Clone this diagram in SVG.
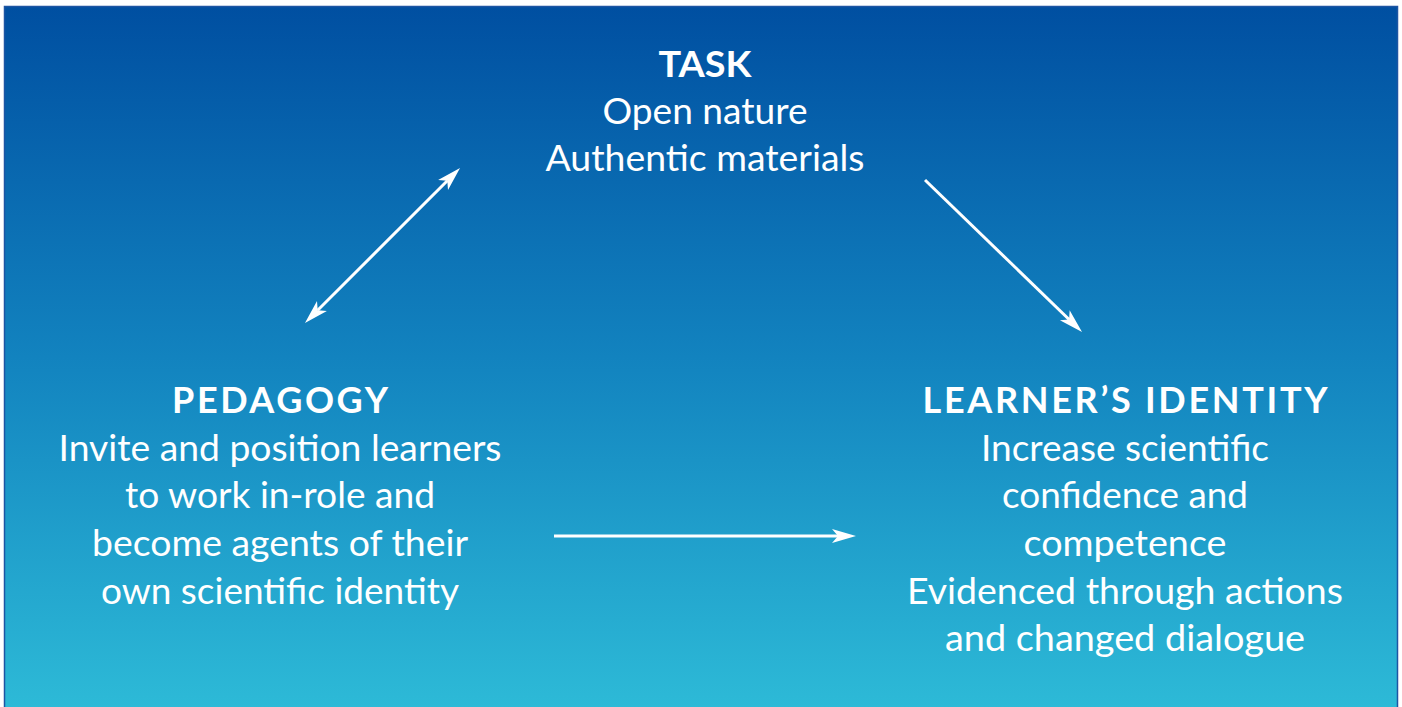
<svg xmlns="http://www.w3.org/2000/svg" width="1402" height="707" viewBox="0 0 1402 707">
<style>
text{font-family:Lato,"Open Sans","Liberation Sans",sans-serif;fill:#fff;text-anchor:middle}
.t{font-size:36px;font-weight:700}
.b{font-size:36px}
.c{fill:none;stroke:#fff;stroke-width:3}
</style>
<defs>
<linearGradient id="bg" x1="0" y1="0" x2="0" y2="1">
<stop offset="0" stop-color="#004fa1"/>
<stop offset="0.5" stop-color="#1283bf"/>
<stop offset="1" stop-color="#2dbad7"/>
</linearGradient>
<marker id="ah" markerUnits="userSpaceOnUse" markerWidth="28" markerHeight="16" viewBox="-8 -8 28 16" refX="0" refY="0" orient="auto-start-reverse">
<path d="M18,0 L-6,-7 L0,0 L-6,7 Z" fill="#fff"/>
</marker>
</defs>
<rect x="0" y="0" width="1402" height="707" fill="#fff"/>
<rect x="4.5" y="6.5" width="1393" height="702" fill="url(#bg)" stroke="#1d55a3" stroke-width="1.5"/>
<g id="connectors">
<line class="c" x1="317.7" y1="310.3" x2="447.3" y2="180.7" marker-start="url(#ah)" marker-end="url(#ah)"/>
<line class="c" x1="925" y1="180" x2="1069.1" y2="319.5" marker-end="url(#ah)"/>
<line class="c" x1="554" y1="536" x2="838" y2="536" marker-end="url(#ah)"/>
</g>
<g id="task">
<text class="t" x="705" y="77" textLength="93" lengthAdjust="spacingAndGlyphs">TASK</text>
<text class="b" x="705" y="124" textLength="205" lengthAdjust="spacingAndGlyphs">Open nature</text>
<text class="b" x="705" y="171" textLength="319" lengthAdjust="spacingAndGlyphs">Authentic materials</text>
</g>
<g id="pedagogy">
<text class="t" x="280" y="413" textLength="216" lengthAdjust="spacing">PEDAGOGY</text>
<text class="b" x="280" y="461" textLength="443" lengthAdjust="spacingAndGlyphs">Invite and position learners</text>
<text class="b" x="280" y="508" textLength="310" lengthAdjust="spacingAndGlyphs">to work in-role and</text>
<text class="b" x="280" y="556" textLength="376" lengthAdjust="spacingAndGlyphs">become agents of their</text>
<text class="b" x="280" y="604" textLength="358" lengthAdjust="spacingAndGlyphs">own scientific identity</text>
</g>
<g id="identity">
<text class="t" x="1125" y="413" textLength="405" lengthAdjust="spacing">LEARNER’S IDENTITY</text>
<text class="b" x="1125" y="461" textLength="288" lengthAdjust="spacingAndGlyphs">Increase scientific</text>
<text class="b" x="1125" y="508" textLength="246" lengthAdjust="spacingAndGlyphs">confidence and</text>
<text class="b" x="1125" y="556" textLength="203" lengthAdjust="spacingAndGlyphs">competence</text>
<text class="b" x="1125" y="604" textLength="436" lengthAdjust="spacingAndGlyphs">Evidenced through actions</text>
<text class="b" x="1125" y="651" textLength="360" lengthAdjust="spacingAndGlyphs">and changed dialogue</text>
</g>
</svg>
